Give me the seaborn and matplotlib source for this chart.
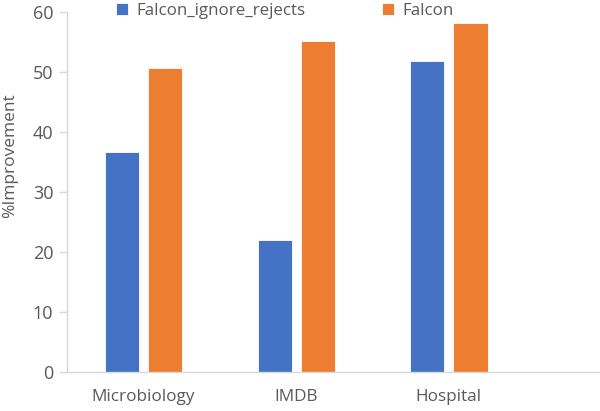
import pandas as pd
import seaborn as sns
import matplotlib.pyplot as plt

# data
datasets = ["Microbiology", "IMDB", "Hospital"]
ignore_rejects = [36.6, 22.0, 51.9]
falcon = [50.7, 55.2, 58.2]
series = ["Falcon_ignore_rejects", "Falcon"]

df = pd.DataFrame({
    "dataset": datasets * 2,
    "method": [series[0]] * 3 + [series[1]] * 3,
    "value": ignore_rejects + falcon,
})

sns.set_style("white")
plt.rcParams['font.family'] = ['Open Sans', 'DejaVu Sans']

grey = "#595959"
fig = plt.figure(figsize=(6, 4.11), dpi=100)
ax = fig.add_axes([0.112, 0.095, 0.888, 0.876])

sns.barplot(data=df, x="dataset", y="value", hue="method",
            palette=["#4472C4", "#ED7D31"], saturation=1,
            width=0.566, gap=0.21, errorbar=None, ax=ax, legend=True,
            edgecolor="white", linewidth=0.6)

ax.set_ylim(0, 60)
ax.set_xlim(-0.5, 2.99)
ax.set_yticks(range(0, 61, 10))
ax.set_xlabel("")
ax.set_ylabel("%Improvement", color=grey, fontsize=12.5)
ax.yaxis.set_label_coords(-0.092, 0.6)

for s in ["top", "right"]:
    ax.spines[s].set_visible(False)
for s in ["left", "bottom"]:
    ax.spines[s].set_color("#D9D9D9")
    ax.spines[s].set_linewidth(1)

ax.tick_params(axis="y", colors=grey, labelsize=13, length=6, width=1,
               color="#D9D9D9", left=True, pad=4)
ax.tick_params(axis="x", colors=grey, labelsize=12.3, length=0, pad=12)

handles, labels = ax.get_legend_handles_labels()
ax.get_legend().remove()
fig.legend(handles, labels, loc="center", bbox_to_anchor=(0.475, 0.974),
           ncol=2, frameon=False, fontsize=12.2, labelcolor=grey,
           handlelength=0.7, handleheight=0.7, handletextpad=0.5,
           columnspacing=4.5)

fig.savefig("out.png", dpi=100)
